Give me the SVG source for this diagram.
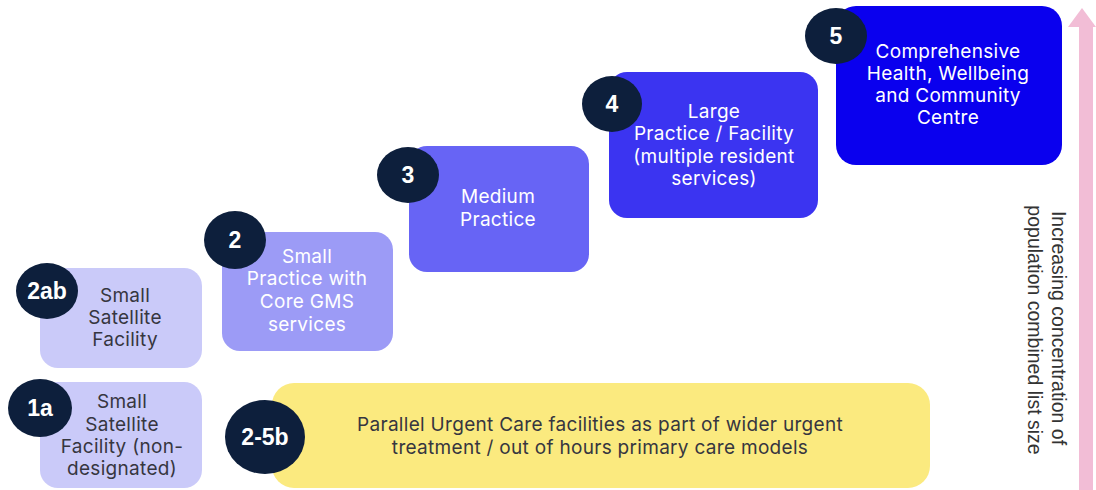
<svg xmlns="http://www.w3.org/2000/svg" width="1096" height="490" viewBox="0 0 1096 490">
<style>
.t{font-family:"Inter","Noto Sans","Liberation Sans",sans-serif;font-size:19px;letter-spacing:0.3px;text-anchor:middle}
.dk{fill:#363640}
.wt{fill:#ffffff}
.n{font-family:"Liberation Sans","Arial",sans-serif;font-size:23px;font-weight:bold;fill:#ffffff;text-anchor:middle}
.c{fill:#0D1F3C}
.side{font-family:"Liberation Sans","Arial",sans-serif;font-size:19.5px;fill:#333333;text-anchor:middle}
</style>
<rect width="1096" height="490" fill="#ffffff"/>
<g id="arrow">
<rect x="1079" y="26" width="14" height="464" fill="#F2BDD6"/>
<polygon points="1068,27 1082,8 1096,27" fill="#F2BDD6"/>
<text class="side" transform="translate(1052,328) rotate(90)">Increasing concentration of</text>
<text class="side" transform="translate(1028,330) rotate(90)">population  combined list size</text>
</g>
<g id="n2ab">
<rect x="40" y="268" width="162" height="100" rx="18" fill="#CACAF9"/>
<ellipse class="c" cx="47" cy="291" rx="31" ry="28"/>
<text class="n" x="47" y="299">2ab</text>
<text class="t dk" x="125" y="302">Small</text>
<text class="t dk" x="125" y="324">Satellite</text>
<text class="t dk" x="125" y="346">Facility</text>
</g>
<g id="n1a">
<rect x="40" y="382" width="162" height="106" rx="18" fill="#CACAF9"/>
<ellipse class="c" cx="40" cy="408" rx="32" ry="29"/>
<text class="n" x="40" y="416">1a</text>
<text class="t dk" x="122" y="408">Small</text>
<text class="t dk" x="122" y="431">Satellite</text>
<text class="t dk" x="122" y="453">Facility (non-</text>
<text class="t dk" x="122" y="475">designated)</text>
</g>
<g id="n2">
<rect x="222" y="232" width="171" height="119" rx="18" fill="#9C9BF6"/>
<ellipse class="c" cx="235" cy="240" rx="31" ry="29"/>
<text class="n" x="235" y="248">2</text>
<text class="t wt" x="307" y="263">Small</text>
<text class="t wt" x="307" y="285">Practice with</text>
<text class="t wt" x="307" y="308">Core GMS</text>
<text class="t wt" x="307" y="331">services</text>
</g>
<g id="n3">
<rect x="409" y="146" width="180" height="126" rx="18" fill="#6764F5"/>
<ellipse class="c" cx="408" cy="175" rx="31" ry="28"/>
<text class="n" x="408" y="183">3</text>
<text class="t wt" x="498" y="203">Medium</text>
<text class="t wt" x="498" y="226">Practice</text>
</g>
<g id="n4">
<rect x="609" y="72" width="209" height="146" rx="18" fill="#3B34F1"/>
<ellipse class="c" cx="612" cy="104" rx="30" ry="28"/>
<text class="n" x="612" y="112">4</text>
<text class="t wt" x="714" y="118">Large</text>
<text class="t wt" x="714" y="140">Practice / Facility</text>
<text class="t wt" x="714" y="163">(multiple resident</text>
<text class="t wt" x="714" y="185">services)</text>
</g>
<g id="n5">
<rect x="836" y="6" width="226" height="159" rx="20" fill="#0A00EE"/>
<ellipse class="c" cx="836" cy="36" rx="31" ry="28"/>
<text class="n" x="836" y="44">5</text>
<text class="t wt" x="948" y="58">Comprehensive</text>
<text class="t wt" x="948" y="80">Health, Wellbeing</text>
<text class="t wt" x="948" y="102">and Community</text>
<text class="t wt" x="948" y="124">Centre</text>
</g>
<g id="n2-5b">
<rect x="272" y="383" width="658" height="105" rx="22" fill="#FBEA7F"/>
<ellipse class="c" cx="265" cy="437" rx="40" ry="37"/>
<text class="n" x="265" y="445">2-5b</text>
<text class="t dk" x="600" y="431">Parallel Urgent Care facilities as part of wider urgent</text>
<text class="t dk" x="600" y="454">treatment / out of hours primary care models</text>
</g>
<g id="connectors"></g>
</svg>
